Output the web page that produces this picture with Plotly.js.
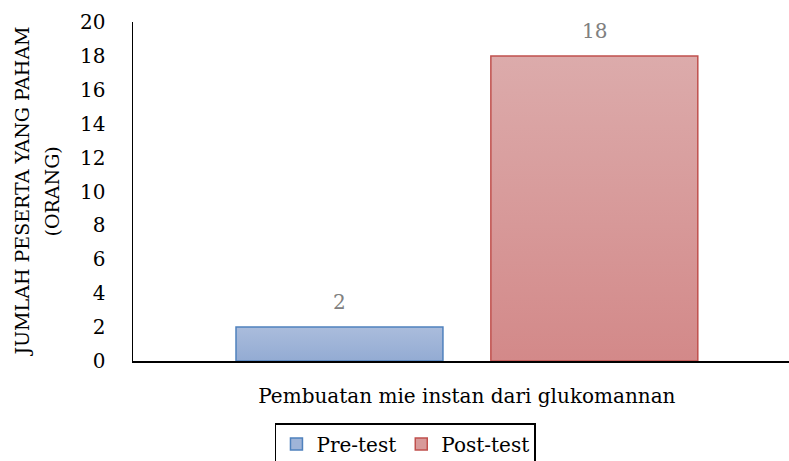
<!DOCTYPE html>
<html>
<head>
<meta charset="utf-8">
<script src="https://cdn.plot.ly/plotly-3.0.1.min.js"></script>
<style>html,body{margin:0;padding:0;background:#fff;}#chart{width:789px;height:461px;}</style>
</head>
<body>
<div id="chart"></div>
<script>
const categories = ["Pembuatan mie instan dari glukomannan"];
const seriesNames = ["Pre-test", "Post-test"];
const preTest = [2];
const postTest = [18];
const yTicks = [0, 2, 4, 6, 8, 10, 12, 14, 16, 18, 20];
const yTitleLines = ["JUMLAH PESERTA YANG PAHAM", "(ORANG)"];

const FONT = "DejaVu Serif, Liberation Serif, serif";
const fills = ["#9fb4d8", "#d89a9a"];
const borders = ["#4f81bd", "#c0504d"];
const seriesVals = [preTest, postTest];

const traces = seriesVals.map((vals, i) => ({
  type: "bar",
  name: seriesNames[i],
  x: categories,
  y: vals,
  marker: {color: fills[i], line: {color: borders[i], width: 1.5}},
  hoverinfo: "none"
}));

const offsets = [-127.5, 127.5];
const annotations = [];
seriesVals.forEach((vals, i) => {
  vals.forEach((v, j) => {
    annotations.push({
      x: categories[j], y: v, xref: "x", yref: "y",
      text: String(v), showarrow: false,
      xanchor: "center", yanchor: "bottom",
      xshift: offsets[i], yshift: 11,
      font: {family: FONT, size: 20, color: "#808080"}
    });
  });
});
const titleX = [-0.1707, -0.1250];
yTitleLines.forEach((t, i) => {
  annotations.push({
    x: titleX[i], y: 0.5, xref: "paper", yref: "paper",
    text: t, textangle: -90, showarrow: false,
    xanchor: "center", yanchor: "middle",
    font: {family: FONT, size: 19, color: "#000"}
  });
});

const layout = {
  width: 789, height: 461,
  margin: {l: 133, r: 0, t: 22, b: 100},
  paper_bgcolor: "#fff", plot_bgcolor: "#fff",
  font: {family: FONT, size: 20, color: "#000"},
  barmode: "group",
  bargap: 0.223,
  bargroupgap: 0.188,
  showlegend: true,
  legend: {
    orientation: "h",
    xref: "container", yref: "container",
    x: 0.3485, y: 0.0824, xanchor: "left", yanchor: "top",
    bordercolor: "#000", borderwidth: 1.5,
    font: {family: FONT, size: 20, color: "#000"},
    itemwidth: 30
  },
  xaxis: {
    type: "category",
    range: [-0.509, 0.491],
    showline: true, linecolor: "#000", linewidth: 1.5,
    showgrid: false, zeroline: false,
    ticks: "outside", ticklen: 16, tickcolor: "rgba(0,0,0,0)",
    tickfont: {family: FONT, size: 20, color: "#000"}
  },
  yaxis: {
    range: [0, 20],
    tickvals: yTicks,
    showline: true, linecolor: "#000", linewidth: 1.5,
    showgrid: false, zeroline: false,
    ticks: "outside", ticklen: 22, tickcolor: "rgba(0,0,0,0)",
    tickfont: {family: FONT, size: 20, color: "#000"}
  },
  annotations: annotations
};

Plotly.newPlot("chart", traces, layout, {displayModeBar: false, staticPlot: true}).then(gd => {
  const svgNS = "http://www.w3.org/2000/svg";
  const defs = gd.querySelector("svg.main-svg defs");
  const grads = [["#aabcdc", "#93abd3"], ["#dcabab", "#d38989"]];
  grads.forEach((g, i) => {
    const lg = document.createElementNS(svgNS, "linearGradient");
    lg.setAttribute("id", "barGrad" + i);
    lg.setAttribute("x1", "0"); lg.setAttribute("y1", "0");
    lg.setAttribute("x2", "0"); lg.setAttribute("y2", "1");
    [[0, g[0]], [1, g[1]]].forEach(([o, c]) => {
      const s = document.createElementNS(svgNS, "stop");
      s.setAttribute("offset", o); s.setAttribute("stop-color", c);
      lg.appendChild(s);
    });
    defs.appendChild(lg);
  });
  gd.querySelectorAll(".barlayer .trace").forEach((t, i) => {
    t.querySelectorAll(".point path").forEach(p => { p.style.fill = "url(#barGrad" + i + ")"; });
  });
});
</script>
</body>
</html>
